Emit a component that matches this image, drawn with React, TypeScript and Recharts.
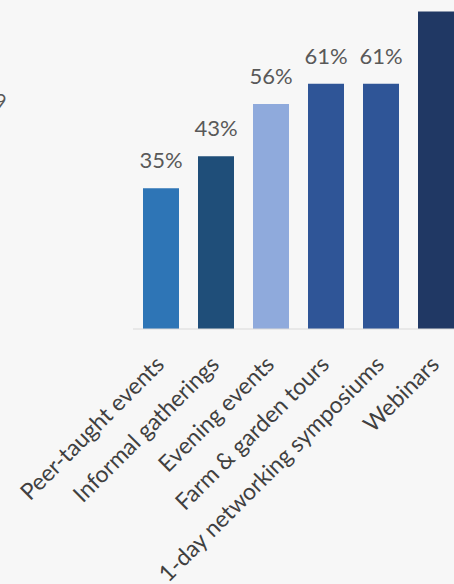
import React from 'react';
import { BarChart, Bar, XAxis, YAxis, LabelList, Cell } from 'recharts';

const categories = [
  'Peer-taught events',
  'Informal gatherings',
  'Evening events',
  'Farm & garden tours',
  '1-day networking symposiums',
  'Webinars',
];
const values = [35, 43, 56, 61, 61, 79];
const barColors = ['#2e75b6', '#1f4e79', '#8faadc', '#2f5597', '#2f5597', '#203864'];

const data = categories.map((name, i) => ({ name, value: values[i] }));

const FONT = 'Lato, "Liberation Sans", sans-serif';

const RotatedTick = (props: any) => {
  const { x, y, payload } = props;
  const ax = x + 5;
  const ay = y + 37;
  return (
    <text
      x={ax}
      y={ay}
      textAnchor="end"
      transform={`rotate(-45, ${ax}, ${ay})`}
      fill="#404040"
      fontSize={23}
      fontFamily={FONT}
    >
      {payload.value}
    </text>
  );
};

export default function App() {
  return (
    <div
      style={{
        position: 'fixed',
        left: 0,
        top: 0,
        width: 454,
        height: 584,
        overflow: 'hidden',
        background: '#f7f7f7',
      }}
    >
      <div
        style={{
          position: 'absolute',
          left: -5,
          top: 90,
          fontFamily: FONT,
          fontSize: 20,
          lineHeight: '20px',
          color: '#595959',
        }}
      >
        9
      </div>
      <div style={{ position: 'absolute', left: 0, top: -80 }}>
        <BarChart
          width={483}
          height={664}
          data={data}
          margin={{ top: 7, right: 20, bottom: 0, left: 133 }}
          barCategoryGap={19}
        >
          <YAxis hide domain={[0, 100]} />
          <XAxis
            dataKey="name"
            interval={0}
            tickLine={false}
            tickSize={0}
            tickMargin={0}
            height={255}
            axisLine={{ stroke: '#d9d9d9', strokeWidth: 1 }}
            tick={<RotatedTick />}
          />
          <Bar dataKey="value" barSize={36} isAnimationActive={false}>
            {data.map((d, i) => (
              <Cell key={d.name} fill={barColors[i]} />
            ))}
            <LabelList
              dataKey="value"
              position="top"
              offset={20}
              formatter={(v: any) => `${v}%`}
              fill="#595959"
              fontSize={22}
              fontFamily={FONT}
            />
          </Bar>
        </BarChart>
      </div>
    </div>
  );
}
